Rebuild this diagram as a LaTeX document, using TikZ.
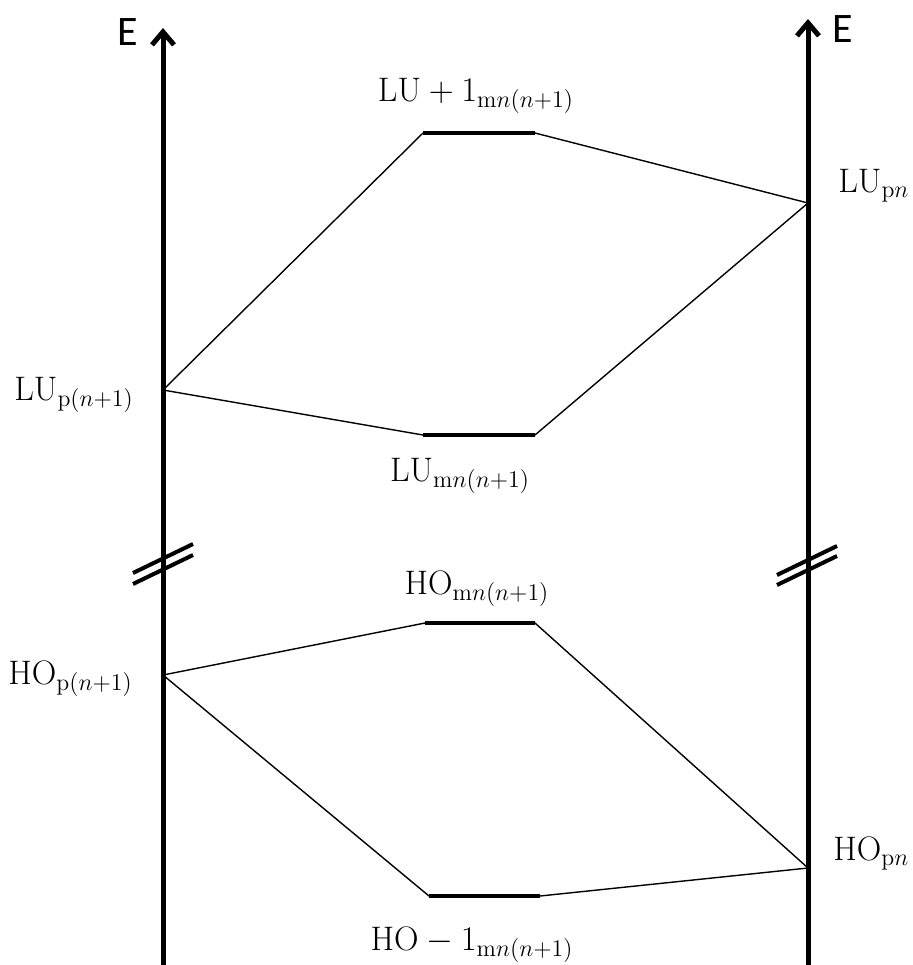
\documentclass[tikz,border=0pt]{standalone}
\usepackage{fontspec}
\newfontfamily\efont{Carlito}
\usetikzlibrary{arrows.meta}
\begin{document}
\begin{tikzpicture}[x=0.5pt,y=-0.5pt,
  axis/.style={line width=2.5pt,-{Straight Barb[length=6.5pt,width=11pt]}},
  lev/.style={line width=2.3pt},
  conn/.style={line width=0.7pt},
  brk/.style={line width=2pt},
  lab/.style={font=\fontsize{17}{20}\selectfont, inner sep=0pt},
  elab/.style={font=\efont\fontsize{21}{25}\selectfont, inner sep=0pt}]
\useasboundingbox (0,0) rectangle (912,965);
% axes
\coordinate (lbot) at (163,965);
\coordinate (ltop) at (163,28);
\coordinate (rbot) at (808,965);
\coordinate (rtop) at (808,19);
\draw[axis] (lbot) -- (ltop);
\draw[axis] (rbot) -- (rtop);
\node[elab] (eL) at (128,32) {E};
\node[elab] (eR) at (843,29) {E};
% break marks
\coordinate (bl1a) at (133,573); \coordinate (bl1b) at (193,544);
\coordinate (bl2a) at (133,584); \coordinate (bl2b) at (193,555);
\coordinate (br1a) at (777,575); \coordinate (br1b) at (837,546);
\coordinate (br2a) at (777,585); \coordinate (br2b) at (837,556);
\draw[brk] (bl1a) -- (bl1b);
\draw[brk] (bl2a) -- (bl2b);
\draw[brk] (br1a) -- (br1b);
\draw[brk] (br2a) -- (br2b);
% points on axes
\coordinate (LUpn) at (808,203);
\coordinate (LUp1) at (163,390);
\coordinate (HOp1) at (163,675);
\coordinate (HOpn) at (808,868);
% levels
\coordinate (lu1L) at (423,133); \coordinate (lu1R) at (535,133);
\coordinate (lumL) at (423,435); \coordinate (lumR) at (535,435);
\coordinate (homL) at (425,623); \coordinate (homR) at (535,623);
\coordinate (ho1L) at (429,896); \coordinate (ho1R) at (540,896);
\draw[lev] (lu1L) -- (lu1R);
\draw[lev] (lumL) -- (lumR);
\draw[lev] (homL) -- (homR);
\draw[lev] (ho1L) -- (ho1R);
% connectors
\draw[conn] (LUp1) -- (lu1L);
\draw[conn] (lu1R) -- (LUpn);
\draw[conn] (LUp1) -- (lumL);
\draw[conn] (lumR) -- (LUpn);
\draw[conn] (HOp1) -- (homL);
\draw[conn] (homR) -- (HOpn);
\draw[conn] (HOp1) -- (ho1L);
\draw[conn] (ho1R) -- (HOpn);
% labels
\node[lab,anchor=base] (tLU1) at (476,101) {$\mathrm{LU}+1_{\mathrm{m}n(n+1)}$};
\node[lab,anchor=base west] (tLUpn) at (838,192) {$\mathrm{LU}_{\mathrm{p}n}$};
\node[lab,anchor=base west] (tLUp1) at (14,400) {$\mathrm{LU}_{\mathrm{p}(n+1)}$};
\node[lab,anchor=base] (tLUm) at (460,481) {$\mathrm{LU}_{\mathrm{m}n(n+1)}$};
\node[lab,anchor=base] (tHOm) at (477,594) {$\mathrm{HO}_{\mathrm{m}n(n+1)}$};
\node[lab,anchor=base west] (tHOp1) at (8,684) {$\mathrm{HO}_{\mathrm{p}(n+1)}$};
\node[lab,anchor=base west] (tHOpn) at (833,860) {$\mathrm{HO}_{\mathrm{p}n}$};
\node[lab,anchor=base] (tHO1) at (472,950) {$\mathrm{HO}-1_{\mathrm{m}n(n+1)}$};
\end{tikzpicture}
\end{document}
